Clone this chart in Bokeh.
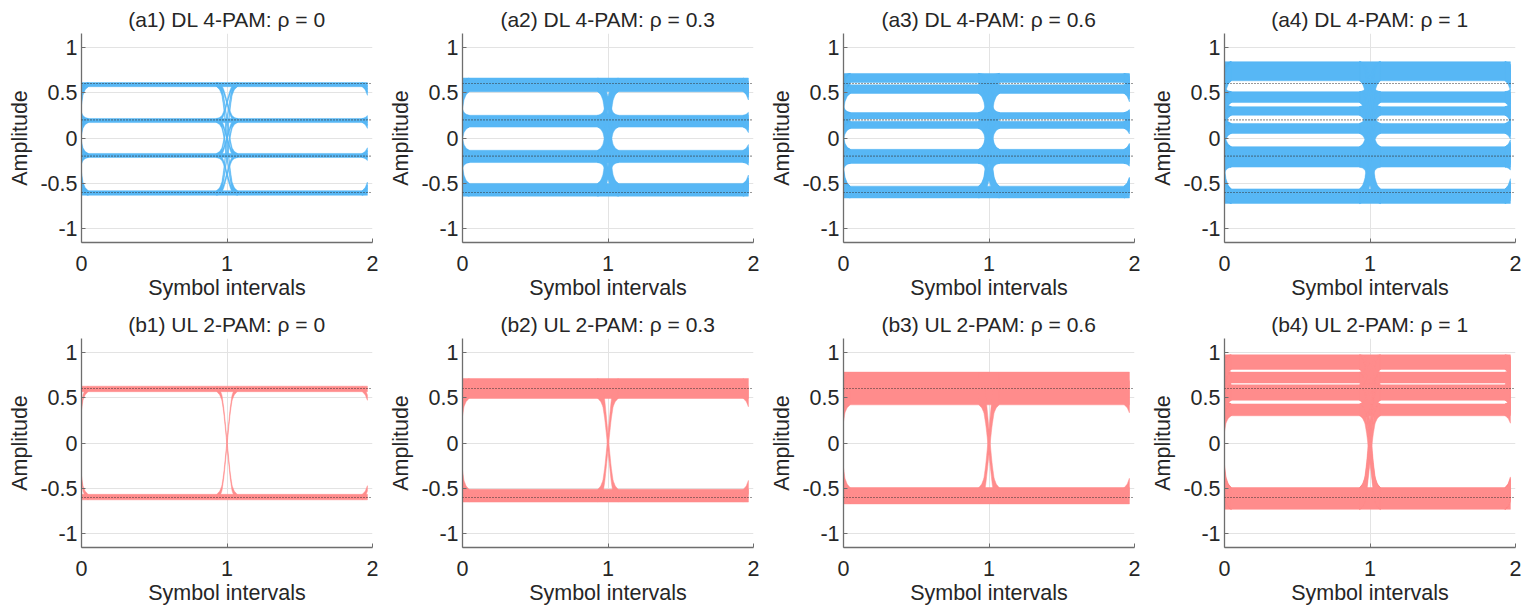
import numpy as np
from bokeh.plotting import figure
from bokeh.layouts import column, row
from bokeh.models import FixedTicker, Range1d, Span, CustomJSTickFormatter
from bokeh.embed import file_html
from bokeh.resources import INLINE

# ---------------- data ----------------
RHO = ["0", "0.3", "0.6", "1"]
DL_TITLES = ["(a1) DL 4-PAM: \u03c1 = 0", "(a2) DL 4-PAM: \u03c1 = 0.3",
             "(a3) DL 4-PAM: \u03c1 = 0.6", "(a4) DL 4-PAM: \u03c1 = 1"]
UL_TITLES = ["(b1) UL 2-PAM: \u03c1 = 0", "(b2) UL 2-PAM: \u03c1 = 0.3",
             "(b3) UL 2-PAM: \u03c1 = 0.6", "(b4) UL 2-PAM: \u03c1 = 1"]

# dotted reference (nominal) levels
DL_REF_LEVELS = [0.6, 0.2, -0.2, -0.6]
UL_REF_LEVELS = [0.6, -0.6]

# amplitude bands (low, high) occupied by the traces inside a symbol interval
DL_BANDS_RHO_0 = [(0.565, 0.61), (0.17, 0.215), (-0.215, -0.17), (-0.63, -0.58)]
DL_BANDS_RHO_03 = [(0.51, 0.66), (0.12, 0.25), (-0.27, -0.135), (-0.64, -0.50)]
DL_BANDS_RHO_06 = [(0.61, 0.71), (0.49, 0.585), (0.21, 0.28), (0.105, 0.185),
                   (-0.28, -0.125), (-0.66, -0.53)]
DL_BANDS_RHO_1 = [(0.63, 0.84), (0.39, 0.51), (0.25, 0.345), (0.05, 0.16),
                  (-0.32, -0.095), (-0.72, -0.56)]
UL_BANDS_RHO_0 = [(0.565, 0.625), (-0.625, -0.565)]
UL_BANDS_RHO_03 = [(0.49, 0.71), (-0.65, -0.51)]
UL_BANDS_RHO_06 = [(0.42, 0.78), (-0.67, -0.49)]
UL_BANDS_RHO_1 = [(0.81, 0.97), (0.66, 0.78), (0.47, 0.64), (0.30, 0.43), (-0.73, -0.49)]

DL_BANDS = [DL_BANDS_RHO_0, DL_BANDS_RHO_03, DL_BANDS_RHO_06, DL_BANDS_RHO_1]
UL_BANDS = [UL_BANDS_RHO_0, UL_BANDS_RHO_03, UL_BANDS_RHO_06, UL_BANDS_RHO_1]

# symbol transition profile (offset from boundary, fraction of the level change)
TRANSITION_T = [-0.07, -0.05, -0.035, -0.022, -0.01, 0.0, 0.01, 0.022, 0.035, 0.05, 0.07]
TRANSITION_S = [0.0, 0.03, 0.08, 0.2, 0.36, 0.5, 0.64, 0.8, 0.92, 0.97, 1.0]
SYMBOL_EDGES = [-0.025, 1.0, 2.0]
TRACE_START, TRACE_END = 0.0, 1.965

X_TICKS = [0, 1, 2]
Y_TICKS = [-1, -0.5, 0, 0.5, 1]
X_RANGE = (0, 2)
Y_RANGE = (-1.15, 1.15)

DL_COLOR = "#57B7F5"
UL_COLOR = "#FF8C8C"
TEXT_COLOR = "#262626"
FONT = "Liberation Sans"


def eye_patches(bands):
    xs, ys = [], []
    for lo, hi in bands:
        xs.append([TRACE_START, TRACE_END, TRACE_END, TRACE_START])
        ys.append([lo, lo, hi, hi])
    t = np.array(TRANSITION_T)
    s_prof = np.array(TRANSITION_S)
    for c in SYMBOL_EDGES:
        x0 = max(c + t[0], TRACE_START)
        x1 = min(c + t[-1], TRACE_END)
        if x1 <= x0:
            continue
        x = np.linspace(x0, x1, 40)
        s = np.interp(x - c, t, s_prof)
        for i, (lo_a, hi_a) in enumerate(bands):
            for j, (lo_b, hi_b) in enumerate(bands):
                if i == j:
                    continue
                upper = hi_a + (hi_b - hi_a) * s
                lower = lo_a + (lo_b - lo_a) * s
                xs.append(list(x) + list(x[::-1]))
                ys.append(list(upper) + list(lower[::-1]))
    return xs, ys


def make_panel(title, bands, ref_levels, color, top, bottom, right):
    p = figure(frame_width=291, frame_height=209,
               x_range=Range1d(*X_RANGE), y_range=Range1d(*Y_RANGE),
               output_backend="svg", toolbar_location=None,
               min_border_left=81, min_border_right=right,
               min_border_top=top, min_border_bottom=bottom,
               title=title)
    p.outline_line_color = None
    p.background_fill_color = "white"
    p.border_fill_color = "white"

    p.title.text_font = FONT
    p.title.text_font_size = "21px"
    p.title.text_font_style = "normal"
    p.title.text_color = TEXT_COLOR
    p.title.align = "center"
    p.title.standoff = 5

    p.xaxis.ticker = FixedTicker(ticks=X_TICKS)
    p.yaxis.ticker = FixedTicker(ticks=Y_TICKS)
    p.yaxis.formatter = CustomJSTickFormatter(code="return tick.toString();")
    p.xaxis.formatter = CustomJSTickFormatter(code="return tick.toString();")
    p.xaxis.axis_label = "Symbol intervals"
    p.yaxis.axis_label = "Amplitude"
    for ax in (p.xaxis, p.yaxis):
        ax.axis_label_text_font = FONT
        ax.axis_label_text_font_size = "21.5px"
        ax.axis_label_text_font_style = "normal"
        ax.axis_label_text_color = TEXT_COLOR
        ax.major_label_text_font = FONT
        ax.major_label_text_font_size = "21.5px"
        ax.major_label_text_color = TEXT_COLOR
        ax.axis_line_color = "#6e6e6e"
        ax.axis_line_width = 1.3
        ax.major_tick_line_color = "#6e6e6e"
        ax.major_tick_in = 4
        ax.major_tick_out = 0
        ax.minor_tick_line_color = None
    p.yaxis.major_label_standoff = 4
    p.yaxis.axis_label_standoff = 5
    p.xaxis.major_label_standoff = 13
    p.xaxis.axis_label_standoff = 2

    p.xgrid.grid_line_color = "#e3e3e3"
    p.ygrid.grid_line_color = "#e3e3e3"

    xs, ys = eye_patches(bands)
    p.patches(xs, ys, fill_color=color, line_color=color, line_width=0.5)

    for lv in ref_levels:
        p.add_layout(Span(location=lv, dimension="width", line_color="#333333",
                          line_width=1.2, line_dash="1 2"))
    return p


top_row, bottom_row = [], []
for k in range(4):
    right = 9 if k < 3 else 12
    top_row.append(make_panel(DL_TITLES[k], DL_BANDS[k], DL_REF_LEVELS, DL_COLOR,
                              33, 63, right))
    bottom_row.append(make_panel(UL_TITLES[k], UL_BANDS[k], UL_REF_LEVELS, UL_COLOR,
                                 33, 60, right))

layout = column(row(*top_row), row(*bottom_row))
open("out.html", "w").write(file_html(layout, INLINE))
